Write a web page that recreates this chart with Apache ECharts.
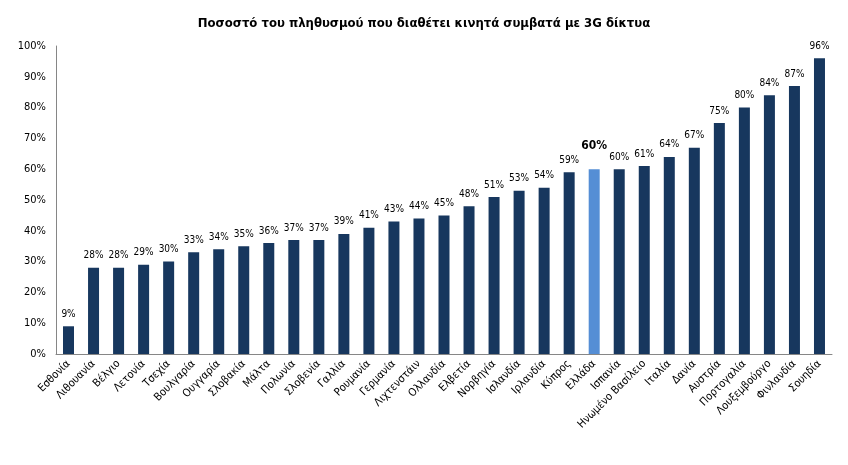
<!DOCTYPE html>
<html><head><meta charset="utf-8">
<script src="https://cdn.jsdelivr.net/npm/echarts@6/dist/echarts.min.js"></script>
<style>html,body{margin:0;padding:0;background:#fff}#c{width:848px;height:465px}</style>
</head><body><div id="c"></div>
<script>
const categories = ["Εσθονία","Λιθουανία","Βέλγιο","Λετονία","Τσεχία","Βουλγαρία","Ουγγαρία","Σλοβακία","Μάλτα","Πολωνία","Σλοβενία","Γαλλία","Ρουμανία","Γερμανία","Λιχτενστάιν","Ολλανδία","Ελβετία","Νορβηγία","Ισλανδία","Ιρλανδία","Κύπρος","Ελλάδα","Ισπανία","Ηνωμένο Βασίλειο","Ιταλία","Δανία","Αυστρία","Πορτογαλία","Λουξεμβούργο","Φινλανδία","Σουηδία"];
const values = [9,28,28,29,30,33,34,35,36,37,37,39,41,43,44,45,48,51,53,54,59,60,60,61,64,67,75,80,84,87,96];
const highlight = "Ελλάδα";
const yTicks = [0,10,20,30,40,50,60,70,80,90,100];
const title = "Ποσοστό του πληθυσμού που διαθέτει κινητά συμβατά με 3G δίκτυα";

const FONT = "'DejaVu Sans Condensed','Liberation Sans Narrow',sans-serif";
const data = values.map((v,i)=>{
  const o = {value:v};
  if (categories[i]===highlight){
    o.itemStyle={color:'#558ED5'};
    o.label={fontWeight:'bold',fontSize:12,offset:[0,-10]};
  }
  return o;
});
const chart = echarts.init(document.getElementById('c'));
chart.setOption({
  animation:false,
  title:{text:title,left:'center',top:12,textStyle:{fontFamily:FONT,fontSize:13,fontWeight:'bold',color:'#000'}},
  grid:{left:56,right:16,top:46,bottom:111,containLabel:false},
  xAxis:{type:'category',data:categories,
    axisLine:{lineStyle:{color:'#868686'}},axisTick:{show:false},
    axisLabel:{rotate:45,interval:0,fontFamily:FONT,fontSize:11,color:'#000',margin:8}},
  yAxis:{type:'value',min:yTicks[0],max:yTicks[yTicks.length-1],interval:10,
    axisLine:{show:true,lineStyle:{color:'#868686'}},axisTick:{show:false},splitLine:{show:false},
    axisLabel:{formatter:v=>v+'%',fontFamily:FONT,fontSize:11,color:'#000',margin:10}},
  series:[{type:'bar',data:data,barWidth:11,itemStyle:{color:'#17375E'},
    label:{show:true,position:'top',formatter:p=>p.value+'%',fontFamily:FONT,fontSize:10,color:'#000',distance:7}}]
});
</script></body></html>
